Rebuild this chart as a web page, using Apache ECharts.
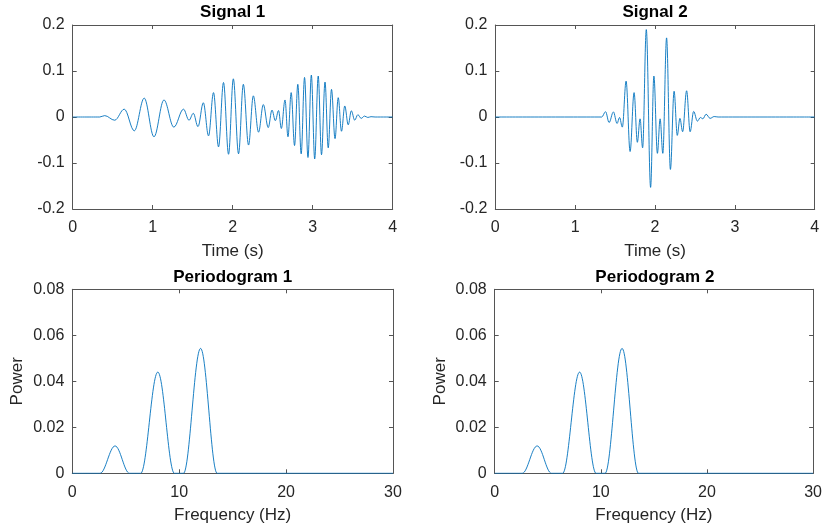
<!DOCTYPE html>
<html>
<head>
<meta charset="utf-8">
<script src="https://cdn.jsdelivr.net/npm/echarts@6/dist/echarts.min.js"></script>
<style>
html,body{margin:0;padding:0;background:#fff;}
#chart{width:825px;height:531px;}
</style>
</head>
<body>
<div id="chart"></div>
<script>
// ---- Data (extrema of the traces) ----
const sig1T = [0, 0.3375, 0.40, 0.525, 0.644, 0.770, 0.894, 1.016, 1.141, 1.264, 1.385, 1.454, 1.508, 1.566, 1.633, 1.698, 1.760, 1.823, 1.885, 1.948, 2.008, 2.073, 2.133, 2.198, 2.258, 2.323, 2.383, 2.444, 2.491, 2.533, 2.573, 2.608, 2.654, 2.691, 2.731, 2.773, 2.814, 2.856, 2.898, 2.941, 2.983, 3.025, 3.069, 3.110, 3.154, 3.194, 3.235, 3.279, 3.319, 3.360, 3.401, 3.444, 3.483, 3.525, 3.564, 3.606, 3.648, 3.689, 3.729, 3.78, 4];
const sig1V = [0, 0, 0.003, -0.007, 0.017, -0.030, 0.041, -0.043, 0.037, -0.022, 0.017, -0.007, 0.008, -0.021, 0.031, -0.041, 0.053, -0.065, 0.075, -0.081, 0.083, -0.080, 0.071, -0.061, 0.046, -0.033, 0.027, -0.023, 0.015, -0.008, 0.014, -0.025, 0.037, -0.043, 0.053, -0.062, 0.071, -0.080, 0.086, -0.088, 0.091, -0.091, 0.089, -0.082, 0.076, -0.067, 0.060, -0.047, 0.042, -0.031, 0.024, -0.017, 0.0135, -0.007, 0.005, -0.003, 0.002, -0.001, 0.0007, 0, 0];

const sig2T = [0, 1.333, 1.381, 1.425, 1.479, 1.525, 1.556, 1.591, 1.638, 1.688, 1.738, 1.779, 1.813, 1.845, 1.891, 1.945, 1.986, 2.030, 2.064, 2.098, 2.145, 2.193, 2.239, 2.279, 2.312, 2.346, 2.396, 2.440, 2.484, 2.531, 2.569, 2.599, 2.640, 2.690, 2.741, 2.79, 4];
const sig2V = [0, 0, 0.0115, -0.012, 0.011, -0.014, -0.001, -0.022, 0.078, -0.075, 0.053, -0.055, -0.004, -0.067, 0.190, -0.153, 0.089, -0.079, -0.004, -0.079, 0.172, -0.114, 0.056, -0.040, -0.003, -0.032, 0.057, -0.032, 0.012, -0.009, -0.001, -0.004, 0.006, -0.003, 0.001, 0, 0];

const per1F = [0, 2.6, 4.0, 5.35, 6.4, 8.0, 9.55, 10.4, 12.0, 13.55, 30];
const per1P = [0, 0, 0.0119, 0, 0, 0.0440, 0, 0, 0.0543, 0, 0];
const per2F = [0, 2.6, 4.0, 5.35, 6.4, 8.0, 9.55, 10.4, 12.0, 13.55, 30];
const per2P = [0, 0, 0.0119, 0, 0, 0.0440, 0, 0, 0.0543, 0, 0];

const timeTicks = [0, 1, 2, 3, 4];
const ampTicks = [-0.2, -0.1, 0, 0.1, 0.2];
const freqTicks = [0, 10, 20, 30];
const powTicks = [0, 0.02, 0.04, 0.06, 0.08];

const titles = ['Signal 1', 'Signal 2', 'Periodogram 1', 'Periodogram 2'];
const xNames = ['Time (s)', 'Time (s)', 'Frequency (Hz)', 'Frequency (Hz)'];
const yNames = ['', '', 'Power', 'Power'];

// ---- Layout ----
const FONT = '"Liberation Sans", Arial, Helvetica, sans-serif';
const LINE = '#0072BD';
const AX = '#555555';
const TXT = '#262626';
const grids = [
  {left: 72.7, top: 25, width: 320, height: 184},
  {left: 495.3, top: 25, width: 319.4, height: 184},
  {left: 72.3, top: 289.3, width: 320.7, height: 184},
  {left: 494.7, top: 289.3, width: 320.3, height: 184}
];
const titleY = [12.5, 12.5, 277, 277];

function zip(a, b) { return a.map((x, i) => [x, b[i]]); }
const seriesData = [zip(sig1T, sig1V), zip(sig2T, sig2V), zip(per1F, per1P), zip(per2F, per2P)];
const xTickSets = [timeTicks, timeTicks, freqTicks, freqTicks];
const yTickSets = [ampTicks, ampTicks, powTicks, powTicks];

function axis(pos, ticks, gi, name, main, isY) {
  return {
    type: 'value', gridIndex: gi, position: pos,
    min: ticks[0], max: ticks[ticks.length - 1], interval: ticks[1] - ticks[0],
    axisLine: {show: true, onZero: false, lineStyle: {color: AX, width: 1}},
    axisTick: {show: true, inside: true, length: 4, lineStyle: {color: AX, width: 1}},
    axisLabel: {show: main, color: TXT, fontSize: 16, fontFamily: FONT, margin: isY ? 8 : 11},
    splitLine: {show: false},
    name: main ? name : '', nameLocation: 'middle', nameGap: isY ? 46 : 34,
    nameTextStyle: {color: TXT, fontSize: 17, fontFamily: FONT}
  };
}

const xAxes = [], yAxes = [], series = [], graphics = [];
grids.forEach((g, i) => {
  xAxes.push(axis('bottom', xTickSets[i], i, xNames[i], true, false));
  xAxes.push(axis('top', xTickSets[i], i, '', false, false));
  yAxes.push(axis('left', yTickSets[i], i, yNames[i], true, true));
  yAxes.push(axis('right', yTickSets[i], i, '', false, true));
  series.push({
    type: 'line', xAxisIndex: 2 * i, yAxisIndex: 2 * i, data: seriesData[i],
    showSymbol: false, symbol: 'none', smooth: 0.36, smoothMonotone: 'x',
    lineStyle: {color: LINE, width: 0.9}, clip: true, animation: false
  });
  graphics.push({
    type: 'text', x: g.left + g.width / 2, y: titleY[i],
    style: {text: titles[i], fill: '#000', font: 'bold 17px ' + FONT, textAlign: 'center', textVerticalAlign: 'middle'}
  });
});

const chart = echarts.init(document.getElementById('chart'), null, {renderer: 'canvas'});
chart.setOption({
  animation: false,
  backgroundColor: '#ffffff',
  grid: grids,
  xAxis: xAxes,
  yAxis: yAxes,
  series: series,
  graphic: graphics
});
</script>
</body>
</html>
